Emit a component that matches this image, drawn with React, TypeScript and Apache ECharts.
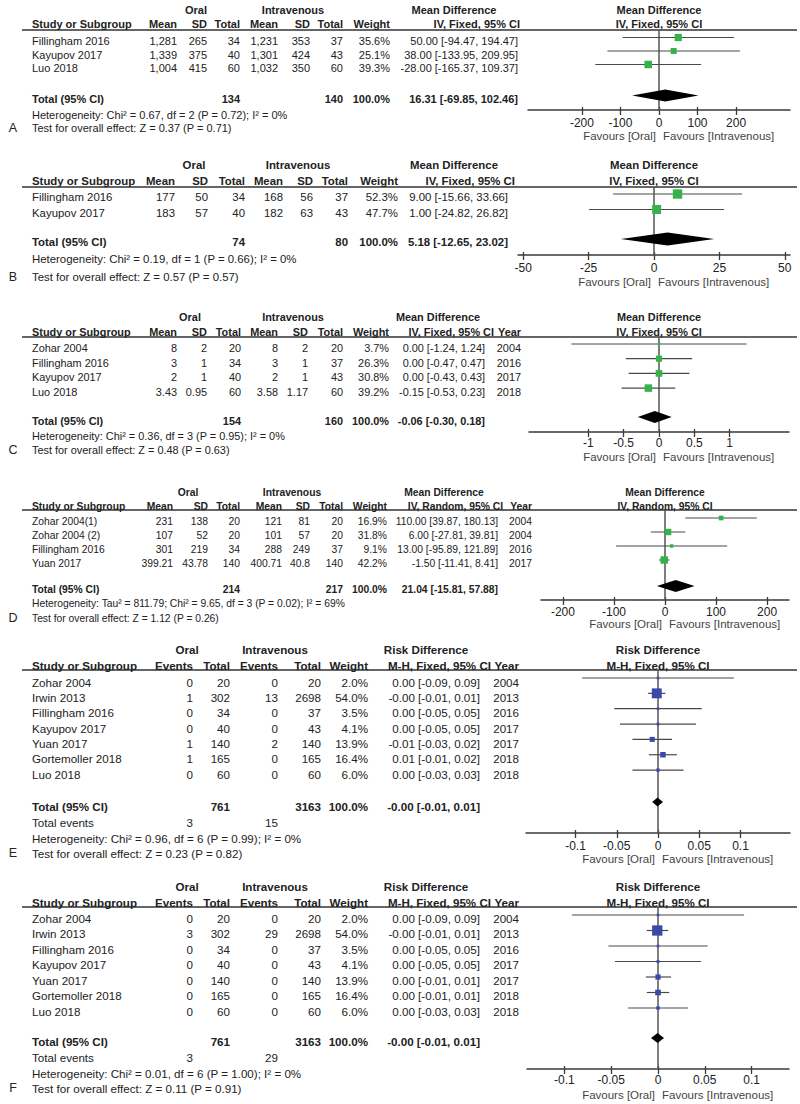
import React, { useEffect, useRef } from "react";
import * as echarts from "echarts";

const FONT = "'Liberation Sans', Arial, Helvetica, sans-serif";

// ===== Panel A : Mean Difference, IV fixed =====
const studiesA = ["Fillingham 2016", "Kayupov 2017", "Luo 2018"];
const oralMeanA = [1281, 1339, 1004];
const oralSdA = [265, 375, 415];
const oralTotalA = [34, 40, 60];
const ivMeanA = [1231, 1301, 1032];
const ivSdA = [353, 424, 350];
const ivTotalA = [37, 43, 60];
const weightA = [35.6, 25.1, 39.3];
const estA = [50.0, 38.0, -28.0];
const lowA = [-94.47, -133.95, -165.37];
const highA = [194.47, 209.95, 109.37];
const pooledA = [16.31, -69.85, 102.46];
const hetA = "Heterogeneity: Chi² = 0.67, df = 2 (P = 0.72); I² = 0%";
const testA = "Test for overall effect: Z = 0.37 (P = 0.71)";
const ticksA = [-200, -100, 0, 100, 200];

// ===== Panel B =====
const studiesB = ["Fillingham 2016", "Kayupov 2017"];
const oralMeanB = [177, 183];
const oralSdB = [50, 57];
const oralTotalB = [34, 40];
const ivMeanB = [168, 182];
const ivSdB = [56, 63];
const ivTotalB = [37, 43];
const weightB = [52.3, 47.7];
const estB = [9.0, 1.0];
const lowB = [-15.66, -24.82];
const highB = [33.66, 26.82];
const pooledB = [5.18, -12.65, 23.02];
const hetB = "Heterogeneity: Chi² = 0.19, df = 1 (P = 0.66); I² = 0%";
const testB = "Test for overall effect: Z = 0.57 (P = 0.57)";
const ticksB = [-50, -25, 0, 25, 50];

// ===== Panel C =====
const studiesC = ["Zohar 2004", "Fillingham 2016", "Kayupov 2017", "Luo 2018"];
const oralMeanC = [8, 3, 2, 3.43];
const oralSdC = [2, 1, 1, 0.95];
const oralTotalC = [20, 34, 40, 60];
const ivMeanC = [8, 3, 2, 3.58];
const ivSdC = [2, 1, 1, 1.17];
const ivTotalC = [20, 37, 43, 60];
const weightC = [3.7, 26.3, 30.8, 39.2];
const estC = [0, 0, 0, -0.15];
const lowC = [-1.24, -0.47, -0.43, -0.53];
const highC = [1.24, 0.47, 0.43, 0.23];
const yearC = [2004, 2016, 2017, 2018];
const pooledC = [-0.06, -0.3, 0.18];
const hetC = "Heterogeneity: Chi² = 0.36, df = 3 (P = 0.95); I² = 0%";
const testC = "Test for overall effect: Z = 0.48 (P = 0.63)";
const ticksC = [-1, -0.5, 0, 0.5, 1];

// ===== Panel D : IV random =====
const studiesD = ["Zohar 2004(1)", "Zohar 2004 (2)", "Fillingham 2016", "Yuan 2017"];
const oralMeanD = [231, 107, 301, 399.21];
const oralSdD = [138, 52, 219, 43.78];
const oralTotalD = [20, 20, 34, 140];
const ivMeanD = [121, 101, 288, 400.71];
const ivSdD = [81, 57, 249, 40.8];
const ivTotalD = [20, 20, 37, 140];
const weightD = [16.9, 31.8, 9.1, 42.2];
const estD = [110.0, 6.0, 13.0, -1.5];
const lowD = [39.87, -27.81, -95.89, -11.41];
const highD = [180.13, 39.81, 121.89, 8.41];
const yearD = [2004, 2004, 2016, 2017];
const pooledD = [21.04, -15.81, 57.88];
const hetD = "Heterogeneity: Tau² = 811.79; Chi² = 9.65, df = 3 (P = 0.02); I² = 69%";
const testD = "Test for overall effect: Z = 1.12 (P = 0.26)";
const ticksD = [-200, -100, 0, 100, 200];

// ===== Panel E : Risk Difference =====
const studiesE = ["Zohar 2004", "Irwin 2013", "Fillingham 2016", "Kayupov 2017", "Yuan 2017", "Gortemoller 2018", "Luo 2018"];
const oralEventsE = [0, 1, 0, 0, 1, 1, 0];
const oralTotalE = [20, 302, 34, 40, 140, 165, 60];
const ivEventsE = [0, 13, 0, 0, 2, 0, 0];
const ivTotalE = [20, 2698, 37, 43, 140, 165, 60];
const weightE = [2.0, 54.0, 3.5, 4.1, 13.9, 16.4, 6.0];
const estE = [0, -0.0015, 0, 0, -0.007, 0.006, 0];
const lowE = [-0.092, -0.012, -0.053, -0.046, -0.031, -0.011, -0.031];
const highE = [0.092, 0.009, 0.053, 0.046, 0.017, 0.023, 0.031];
const yearE = [2004, 2013, 2016, 2017, 2017, 2018, 2018];
const pooledE = [-0.0006, -0.007, 0.006];
const hetE = "Heterogeneity: Chi² = 0.96, df = 6 (P = 0.99); I² = 0%";
const testE = "Test for overall effect: Z = 0.23 (P = 0.82)";
const ticksE = [-0.1, -0.05, 0, 0.05, 0.1];

// ===== Panel F =====
const studiesF = ["Zohar 2004", "Irwin 2013", "Fillingham 2016", "Kayupov 2017", "Yuan 2017", "Gortemoller 2018", "Luo 2018"];
const oralEventsF = [0, 3, 0, 0, 0, 0, 0];
const oralTotalF = [20, 302, 34, 40, 140, 165, 60];
const ivEventsF = [0, 29, 0, 0, 0, 0, 0];
const ivTotalF = [20, 2698, 37, 43, 140, 165, 60];
const weightF = [2.0, 54.0, 3.5, 4.1, 13.9, 16.4, 6.0];
const estF = [0, -0.0008, 0, 0, 0, 0, 0];
const lowF = [-0.092, -0.012, -0.053, -0.046, -0.013, -0.012, -0.032];
const highF = [0.092, 0.011, 0.053, 0.046, 0.014, 0.012, 0.032];
const yearF = [2004, 2013, 2016, 2017, 2017, 2018, 2018];
const pooledF = [-0.0004, -0.0075, 0.0064];
const hetF = "Heterogeneity: Chi² = 0.01, df = 6 (P = 1.00); I² = 0%";
const testF = "Test for overall effect: Z = 0.11 (P = 0.91)";
const ticksF = [-0.1, -0.05, 0, 0.05, 0.1];

// ===== Layout (positions / sizes only) =====
const layA = { font: 11, hdr1: 10, hdr2: 24, line: 30, row0: 41, step: 13.5, total: 99, events: 0, het: 115, test: 128, axis: 110, tickY: 123, fav: 136, off: 3.5, left: 528, width: 262, min: -340, max: 340, cols: [177, 207, 240, 278, 310, 343, 390, 518], ciHdr: 520, year: 0, oralC: 196, ivC: 293, effC: 454, sq: 1.2, dh: 6 };
const layB = { font: 11.4, hdr1: 165, hdr2: 181, line: 187, row0: 197, step: 15.5, total: 242, events: 0, het: 259, test: 277, axis: 255, tickY: 268, fav: 282, off: 3, left: 518, width: 272, min: -52, max: 52, cols: [175, 208, 245, 283, 313, 348, 398, 508], ciHdr: 515, year: 0, oralC: 194, ivC: 298, effC: 454, sq: 1.3, dh: 6.5 };
const layC = { font: 10.9, hdr1: 317, hdr2: 332, line: 337, row0: 348, step: 14.7, total: 421, events: 0, het: 436, test: 450, axis: 432, tickY: 443, fav: 457, off: 4, left: 529, width: 260, min: -1.84, max: 1.84, cols: [177, 207, 241, 278, 308, 343, 389, 485], ciHdr: 494, year: 521, oralC: 190, ivC: 293, effC: 438, sq: 1.2, dh: 6 };
const layD = { font: 10.3, hdr1: 492, hdr2: 506, line: 510, row0: 521, step: 14, total: 589, events: 0, het: 603, test: 618, axis: 600, tickY: 612, fav: 624, off: 3, left: 541, width: 248, min: -243, max: 243, cols: [173, 208, 240, 282, 310, 343, 387, 498], ciHdr: 503, year: 532, oralC: 188, ivC: 292, effC: 444, sq: 1.15, dh: 6 };
const layE = { font: 11.6, hdr1: 649, hdr2: 665, line: 670, row0: 682, step: 15.35, total: 806, events: 822, het: 838, test: 853, axis: 833, tickY: 846, fav: 859, off: 4, left: 526, width: 264, min: -0.16, max: 0.16, cols: [193, 230, 278, 321, 368, 480], ciHdr: 491, year: 519, oralC: 187, ivC: 275, effC: 426, sq: 1.35, dh: 4.5 };
const layF = { font: 11.6, hdr1: 886, hdr2: 902, line: 907, row0: 918, step: 15.5, total: 1041, events: 1057, het: 1073, test: 1088, axis: 1069, tickY: 1080, fav: 1095, off: 3, left: 527, width: 262, min: -0.14, max: 0.14, cols: [193, 230, 278, 321, 368, 480], ciHdr: 491, year: 519, oralC: 187, ivC: 275, effC: 426, sq: 1.4, dh: 5 };

const GREEN = "#35b34a";
const BLUE = "#3a48a6";

const fmt = (v: number) => v.toLocaleString("en-US", { maximumFractionDigits: 2 });
const ci = (e: number, l: number, h: number) => `${e.toFixed(2)} [${l.toFixed(2)}, ${h.toFixed(2)}]`;
const sum = (a: number[]) => a.reduce((s, v) => s + v, 0);

type Panel = {
  letter: string;
  L: any;
  studies: string[];
  cols: string[][];
  heads: string[];
  totals: (string | null)[];
  events: (string | null)[] | null;
  year: number[] | null;
  effName: string;
  method: string;
  est: number[];
  low: number[];
  high: number[];
  weight: number[];
  pooled: number[];
  het: string;
  test: string;
  ticks: number[];
  color: string;
};

function mdPanel(letter: string, L: any, studies: string[], om: number[], osd: number[], on: number[], im: number[], isd: number[], inn: number[], w: number[], est: number[], lo: number[], hi: number[], pooled: number[], het: string, test: string, ticks: number[], method: string, year: number[] | null): Panel {
  return {
    letter, L, studies, year, method, est, low: lo, high: hi, weight: w, pooled, het, test, ticks,
    effName: "Mean Difference",
    color: GREEN,
    cols: [om.map(fmt), osd.map(fmt), on.map(String), im.map(fmt), isd.map(fmt), inn.map(String), w.map((x) => x.toFixed(1) + "%"), studies.map((_, i) => ci(est[i], lo[i], hi[i]))],
    heads: ["Mean", "SD", "Total", "Mean", "SD", "Total", "Weight", method],
    totals: [null, null, String(sum(on)), null, null, String(sum(inn)), "100.0%", ci(pooled[0], pooled[1], pooled[2])],
    events: null,
  };
}

function rdPanel(letter: string, L: any, studies: string[], oe: number[], on: number[], ie: number[], inn: number[], w: number[], est: number[], lo: number[], hi: number[], pooled: number[], het: string, test: string, ticks: number[], year: number[]): Panel {
  return {
    letter, L, studies, year, est, low: lo, high: hi, weight: w, pooled, het, test, ticks,
    method: "M-H, Fixed, 95% CI",
    effName: "Risk Difference",
    color: BLUE,
    cols: [oe.map(String), on.map(String), ie.map(String), inn.map(String), w.map((x) => x.toFixed(1) + "%"), studies.map((_, i) => ci(est[i], lo[i], hi[i]))],
    heads: ["Events", "Total", "Events", "Total", "Weight", "M-H, Fixed, 95% CI"],
    totals: [null, String(sum(on)), null, String(sum(inn)), "100.0%", ci(pooled[0], pooled[1], pooled[2])],
    events: [String(sum(oe)), null, String(sum(ie)), null, null, null],
  };
}

const panels: Panel[] = [
  mdPanel("A", layA, studiesA, oralMeanA, oralSdA, oralTotalA, ivMeanA, ivSdA, ivTotalA, weightA, estA, lowA, highA, pooledA, hetA, testA, ticksA, "IV, Fixed, 95% CI", null),
  mdPanel("B", layB, studiesB, oralMeanB, oralSdB, oralTotalB, ivMeanB, ivSdB, ivTotalB, weightB, estB, lowB, highB, pooledB, hetB, testB, ticksB, "IV, Fixed, 95% CI", null),
  mdPanel("C", layC, studiesC, oralMeanC, oralSdC, oralTotalC, ivMeanC, ivSdC, ivTotalC, weightC, estC, lowC, highC, pooledC, hetC, testC, ticksC, "IV, Fixed, 95% CI", yearC),
  mdPanel("D", layD, studiesD, oralMeanD, oralSdD, oralTotalD, ivMeanD, ivSdD, ivTotalD, weightD, estD, lowD, highD, pooledD, hetD, testD, ticksD, "IV, Random, 95% CI", yearD),
  rdPanel("E", layE, studiesE, oralEventsE, oralTotalE, ivEventsE, ivTotalE, weightE, estE, lowE, highE, pooledE, hetE, testE, ticksE, yearE),
  rdPanel("F", layF, studiesF, oralEventsF, oralTotalF, ivEventsF, ivTotalF, weightF, estF, lowF, highF, pooledF, hetF, testF, ticksF, yearF),
];

function T(x: number, y: number, s: string, size: number, bold: boolean, align: string, color = "#222") {
  return {
    type: "text",
    x,
    y,
    silent: true,
    z: 10,
    style: {
      text: s,
      fill: color,
      fontSize: size,
      fontWeight: bold ? "bold" : "normal",
      fontFamily: FONT,
      textAlign: align,
      textVerticalAlign: "middle",
      align,
      verticalAlign: "middle",
    },
  };
}

function buildOption() {
  const grid: any[] = [];
  const xAxis: any[] = [];
  const yAxis: any[] = [];
  const series: any[] = [];
  const graphics: any[] = [];

  panels.forEach((p, k) => {
    const L = p.L;
    const fs = L.font;
    const zeroPx = L.left + ((0 - L.min) / (L.max - L.min)) * L.width;
    const plotRow0 = L.row0 - L.off;
    const yMin = (L.line - plotRow0) / L.step;
    const yMax = (L.axis - plotRow0) / L.step;
    const totalRow = (L.total - L.row0) / L.step;

    grid.push({ left: L.left, top: L.line, width: L.width, height: L.axis - L.line, containLabel: false });
    xAxis.push({
      type: "value",
      gridIndex: k,
      min: L.min,
      max: L.max,
      position: "bottom",
      axisLine: { show: true, onZero: false, lineStyle: { color: "#3a3a3a", width: 1.5 } },
      axisTick: { show: true, customValues: p.ticks, length: 5, lineStyle: { color: "#3a3a3a", width: 1.3 } },
      axisLabel: { show: true, customValues: p.ticks, margin: L.tickY - L.axis - 6, fontSize: 12, color: "#222", fontFamily: FONT },
      splitLine: { show: false },
    });
    yAxis.push({ type: "value", gridIndex: k, inverse: true, min: yMin, max: yMax, show: false });

    // upper half of the crossing ticks
    xAxis.push({
      type: "value",
      gridIndex: k,
      min: L.min,
      max: L.max,
      position: "bottom",
      axisLine: { show: false, onZero: false },
      axisTick: { show: true, inside: true, customValues: p.ticks, length: 3, lineStyle: { color: "#3a3a3a", width: 1.3 } },
      axisLabel: { show: false },
      splitLine: { show: false },
    });

    const xi = 2 * k;
    // line of no effect
    series.push({
      type: "custom",
      xAxisIndex: xi,
      yAxisIndex: k,
      silent: true,
      z: 1,
      data: [[0]],
      renderItem: (_params: any, api: any) => {
        const a = api.coord([api.value(0), yMin]);
        const b = api.coord([api.value(0), yMax]);
        return { type: "line", shape: { x1: a[0], y1: a[1], x2: b[0], y2: b[1] }, style: { stroke: "#555", lineWidth: 1.5 } };
      },
    });
    // study CIs + squares
    series.push({
      type: "custom",
      xAxisIndex: xi,
      yAxisIndex: k,
      silent: true,
      z: 3,
      data: p.studies.map((_, i) => [p.est[i], p.low[i], p.high[i], i, p.weight[i]]),
      renderItem: (_params: any, api: any) => {
        const row = api.value(3);
        const c = api.coord([api.value(0), row]);
        const a = api.coord([api.value(1), row]);
        const b = api.coord([api.value(2), row]);
        const s = Math.max(2.5, L.sq * Math.sqrt(api.value(4)));
        return {
          type: "group",
          children: [
            { type: "line", shape: { x1: a[0], y1: a[1], x2: b[0], y2: b[1] }, style: { stroke: "#4a4a4a", lineWidth: 1.2 } },
            { type: "rect", shape: { x: c[0] - s / 2, y: c[1] - s / 2, width: s, height: s }, style: { fill: p.color } },
          ],
        };
      },
    });
    // pooled diamond
    series.push({
      type: "custom",
      xAxisIndex: xi,
      yAxisIndex: k,
      silent: true,
      z: 4,
      data: [[p.pooled[0], p.pooled[1], p.pooled[2], totalRow]],
      renderItem: (_params: any, api: any) => {
        const row = api.value(3);
        const c = api.coord([api.value(0), row]);
        const a = api.coord([api.value(1), row]);
        const b = api.coord([api.value(2), row]);
        return {
          type: "polygon",
          shape: { points: [a, [c[0], c[1] - L.dh], b, [c[0], c[1] + L.dh]] },
          style: { fill: "#000" },
        };
      },
    });

    // ---- table texts ----
    graphics.push({ type: "line", silent: true, shape: { x1: 22, y1: L.line, x2: 797, y2: L.line }, style: { stroke: "#333", lineWidth: 1.3 } });
    graphics.push(T(L.oralC, L.hdr1, "Oral", fs, true, "center"));
    graphics.push(T(L.ivC, L.hdr1, "Intravenous", fs, true, "center"));
    graphics.push(T(L.effC, L.hdr1, p.effName, fs, true, "center"));
    graphics.push(T(32, L.hdr2, "Study or Subgroup", fs, true, "left"));
    const nc = p.cols.length;
    p.heads.forEach((h, j) => {
      const x = j === nc - 1 ? L.ciHdr : L.cols[j];
      graphics.push(T(x, L.hdr2, h, fs, true, "right"));
    });
    if (p.year) graphics.push(T(L.year, L.hdr2, "Year", fs, true, "right"));

    p.studies.forEach((s, i) => {
      const y = L.row0 + i * L.step;
      graphics.push(T(32, y, s, fs, false, "left"));
      p.cols.forEach((col, j) => graphics.push(T(L.cols[j], y, col[i], fs, false, "right")));
      if (p.year) graphics.push(T(L.year, y, String(p.year[i]), fs, false, "right"));
    });

    graphics.push(T(32, L.total, "Total (95% CI)", fs, true, "left"));
    p.totals.forEach((v, j) => {
      if (v !== null) graphics.push(T(L.cols[j], L.total, v, fs, true, "right"));
    });
    if (p.events) {
      graphics.push(T(32, L.events, "Total events", fs, false, "left"));
      p.events.forEach((v, j) => {
        if (v !== null) graphics.push(T(L.cols[j], L.events, v, fs, false, "right"));
      });
    }
    graphics.push(T(32, L.het, p.het, fs, false, "left"));
    graphics.push(T(32, L.test, p.test, fs, false, "left"));
    graphics.push(T(13, L.test, p.letter, 12.5, false, "center"));

    // plot headers & favours
    graphics.push(T(zeroPx, L.hdr1, p.effName, fs, true, "center"));
    graphics.push(T(zeroPx, L.hdr2, p.method, fs, true, "center"));
    graphics.push(T(zeroPx - 3, L.fav, "Favours [Oral]", 11.5, false, "right", "#444"));
    graphics.push(T(zeroPx + 4, L.fav, "Favours [Intravenous]", 11.5, false, "left", "#444"));
  });

  return {
    animation: false,
    backgroundColor: "#ffffff",
    grid,
    xAxis,
    yAxis,
    series,
    graphic: { elements: graphics },
  };
}

export default function App() {
  const ref = useRef<HTMLDivElement>(null);
  useEffect(() => {
    const chart = echarts.init(ref.current as HTMLDivElement, null, { renderer: "svg", width: 800, height: 1104 });
    chart.setOption(buildOption() as any);
    return () => chart.dispose();
  }, []);
  return <div ref={ref} style={{ position: "absolute", left: 0, top: 0, width: 800, height: 1104, background: "#fff" }} />;
}
